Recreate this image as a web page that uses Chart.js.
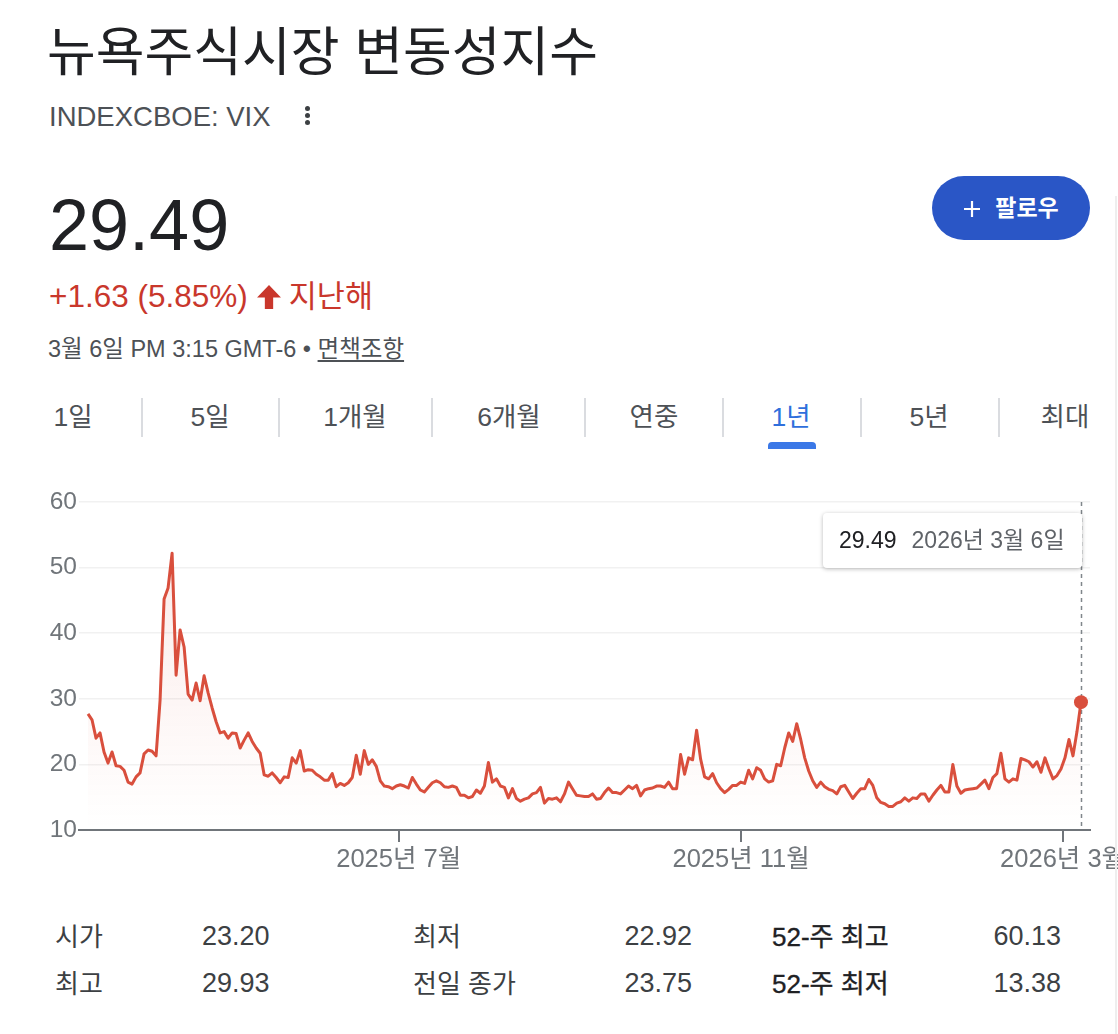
<!DOCTYPE html>
<html lang="ko">
<head>
<meta charset="utf-8">
<title>뉴욕주식시장 변동성지수</title>
<script src="https://cdn.jsdelivr.net/npm/chart.js@4.4.1/dist/chart.umd.min.js"></script>
<style>
  html, body { margin: 0; padding: 0; background: #fff; }
  body {
    width: 1118px; height: 1034px; position: relative; overflow: hidden;
    font-family: "Liberation Sans", Arial, "Noto Sans CJK KR", sans-serif;
    color: #202124;
  }
  .abs { position: absolute; line-height: 1; white-space: nowrap; }
  #titulo { left: 47px; top: 26px; font-size: 53px; color: #202124; }
  #ticker { left: 49px; top: 103px; font-size: 27.5px; color: #4d5156; }
  .punto { position: absolute; left: 305px; width: 5px; height: 5px; border-radius: 50%; background: #3c4043; }
  #precio { left: 49px; top: 189px; font-size: 72px; color: #202124; }
  #cambio { left: 49px; top: 281px; font-size: 31.5px; color: #c9372c; }
  #cambio svg { vertical-align: -3px; margin: 0 7px 0 8px; }
  #cambio .k { font-size: 30.5px; }
  #fecha { left: 48px; top: 338px; font-size: 23.5px; color: #4d5156; }
  #fecha u { text-underline-offset: 3px; }
  #seguir {
    position: absolute; left: 932px; top: 176px; width: 158px; height: 64px;
    border-radius: 32px; background: #2a56c6; color: #fff;
    font-size: 23px; font-weight: bold; line-height: 64px; text-align: center;
  }
  #seguir svg { vertical-align: -2px; margin-right: 14px; }
  .tab { position: absolute; top: 404px; font-size: 26.5px; line-height: 1; color: #4d5156; transform: translateX(-50%); white-space: nowrap; }
  .tab.activo { color: #2f6fdc; }
  .sep { position: absolute; top: 398px; width: 1.5px; height: 39px; background: #dadce0; }
  #subrayado { position: absolute; left: 768px; top: 442px; width: 48px; height: 7px; background: #3b78e7; border-radius: 4px 4px 0 0; }
  #grafica { position: absolute; left: 0; top: 480px; width: 1118px; height: 400px; }
  #tip {
    position: absolute; height: 55px; padding: 0 17px 0 16px; background: #fff;
    border-radius: 4px; box-shadow: 0 1px 4px rgba(0,0,0,0.28);
    font-size: 23px; line-height: 55px; white-space: nowrap; visibility: hidden;
  }
  #tip .v { color: #202124; margin-right: 15px; }
  #tip .d { color: #5f6368; }
  .st { position: absolute; font-size: 26px; line-height: 1; color: #3c4043; white-space: nowrap; }
  .st.n { font-size: 27px; top: auto; }
  .st.r { text-align: right; }
  .st.b { color: #202124; -webkit-text-stroke: 0.35px #202124; }
  #borde { position: absolute; left: 1115px; top: 196px; width: 2px; height: 838px; background: #eeeeee; }
</style>
</head>
<body>
<div id="titulo" class="abs">뉴욕주식시장 변동성지수</div>
<div id="ticker" class="abs">INDEXCBOE: VIX</div>
<div class="punto" style="top:106px"></div>
<div class="punto" style="top:113px"></div>
<div class="punto" style="top:120px"></div>
<div id="seguir"><svg width="18" height="18" viewBox="0 0 18 18"><path d="M9 1v16M1 9h16" stroke="#fff" stroke-width="2.2"/></svg>팔로우</div>

<div id="precio" class="abs">29.49</div>
<div id="cambio" class="abs">+1.63 (5.85%)<svg width="26" height="26" viewBox="0 0 25 25"><path fill="#c9372c" d="M12.5 1L24 13h-7.5v11h-8V13H1z"/></svg><span class="k">지난해</span></div>
<div id="fecha" class="abs">3월 6일 PM 3:15 GMT-6 • <u>면책조항</u></div>

<div class="tab" style="left:73px">1일</div>
<div class="tab" style="left:210px">5일</div>
<div class="tab" style="left:355px">1개월</div>
<div class="tab" style="left:509px">6개월</div>
<div class="tab" style="left:654px">연중</div>
<div class="tab activo" style="left:791px">1년</div>
<div class="tab" style="left:929px">5년</div>
<div class="tab" style="left:1065px">최대</div>
<div class="sep" style="left:141px"></div>
<div class="sep" style="left:278px"></div>
<div class="sep" style="left:431px"></div>
<div class="sep" style="left:584px"></div>
<div class="sep" style="left:722px"></div>
<div class="sep" style="left:860px"></div>
<div class="sep" style="left:998px"></div>
<div id="subrayado"></div>

<div id="grafica"><canvas id="vix" width="1118" height="400"></canvas></div>
<div id="tip"><span class="v">29.49</span><span class="d">2026년 3월 6일</span></div>

<div class="st" style="left:55px; top:924px">시가</div>
<div class="st n" style="left:202px; top:923px">23.20</div>
<div class="st" style="left:413px; top:924px">최저</div>
<div class="st n r" style="right:426px; top:923px">22.92</div>
<div class="st b" style="left:772px; top:924px">52-주 최고</div>
<div class="st n r" style="right:57px; top:923px">60.13</div>
<div class="st" style="left:55px; top:971px">최고</div>
<div class="st n" style="left:202px; top:970px">29.93</div>
<div class="st" style="left:413px; top:971px">전일 종가</div>
<div class="st n r" style="right:426px; top:970px">23.75</div>
<div class="st b" style="left:772px; top:971px">52-주 최저</div>
<div class="st n r" style="right:57px; top:970px">13.38</div>
<div id="borde"></div>

<script>
// Cierres diarios del VIX, último año
const vix = [
  27.7, 26.8, 24.0, 24.8, 21.9, 20.2, 21.9, 19.8, 19.7, 19.1,
  17.3, 17.0, 18.1, 18.7, 21.6, 22.2, 22.0, 21.3, 29.8, 45.2,
  46.9, 52.2, 33.6, 40.5, 37.9, 30.7, 29.8, 32.4, 29.7, 33.5,
  30.9, 28.6, 26.5, 24.8, 25.0, 24.0, 24.8, 24.7, 22.5, 23.7,
  24.8, 23.5, 22.5, 21.7, 18.4, 18.2, 18.7, 18.0, 17.2, 18.1,
  18.0, 21.0, 20.2, 22.1, 19.0, 19.2, 19.1, 18.5, 18.1, 17.6,
  17.6, 18.6, 16.6, 17.1, 16.8, 17.2, 18.0, 21.4, 18.5, 22.1,
  20.0, 20.7, 19.7, 17.5, 16.7, 16.6, 16.3, 16.7, 16.9, 16.7,
  16.4, 18.0, 17.0, 16.1, 15.8, 16.5, 17.2, 17.5, 17.2, 16.6,
  16.5, 16.7, 16.5, 15.3, 15.3, 14.9, 15.1, 16.1, 15.6, 16.7,
  20.3, 17.3, 17.8, 16.7, 16.5, 14.9, 16.3, 14.8, 14.4, 14.7,
  14.9, 15.5, 15.7, 16.5, 14.1, 14.8, 14.7, 14.9, 14.3, 15.5,
  17.3, 16.3, 15.3, 15.2, 15.1, 15.1, 15.5, 14.7, 14.8, 15.7,
  16.4, 15.7, 15.7, 15.5, 16.1, 16.7, 16.3, 16.8, 15.2, 16.1,
  16.3, 16.4, 16.7, 16.7, 16.5, 17.3, 16.3, 16.3, 21.5, 18.5,
  21.0, 20.7, 25.2, 20.8, 18.1, 17.8, 18.6, 17.2, 16.3, 15.7,
  16.2, 16.8, 16.8, 17.3, 17.1, 19.1, 17.8, 19.5, 19.1, 17.8,
  17.3, 17.5, 20.0, 19.8, 22.5, 24.8, 23.5, 26.2, 23.8, 21.0,
  19.0, 17.5, 16.5, 17.3, 16.6, 16.2, 16.0, 15.5, 16.6, 16.8,
  15.8, 14.8, 15.6, 16.3, 16.3, 17.7, 16.8, 14.9, 14.2, 14.0,
  13.6, 13.6, 14.1, 14.3, 14.9, 14.4, 14.9, 14.8, 15.5, 15.5,
  14.4, 15.3, 16.1, 16.8, 15.8, 15.8, 20.0, 16.7, 15.6, 16.1,
  16.2, 16.3, 16.4, 17.0, 17.6, 16.3, 18.0, 18.6, 21.7, 17.8,
  17.3, 17.8, 17.6, 20.9, 20.7, 20.4, 19.6, 20.4, 18.8, 21.0,
  19.3, 17.8, 18.3, 19.3, 21.0, 23.8, 21.3, 25.0, 29.49
];

// Etiquetas del eje x y su posición (índice de sesión)
const etiquetas_x = ["2025년 7월", "2025년 11월", "2026년 3월"];
const posiciones_x = [77.6, 163.1, 243.4];
const marcas_y = [10, 20, 30, 40, 50, 60];

const FUENTE = '"Liberation Sans", Arial, "Noto Sans CJK KR", sans-serif';
const ROJO = "#d94f3d";
const ultimo = vix.length - 1;

const plugin_marcador_final = {
  id: "marcadorFinal",
  beforeDatasetsDraw: (chart) => {
    const { ctx, chartArea, scales } = chart;
    const x = Math.round(scales.x.getPixelForValue(ultimo)) + 0.5;
    ctx.save();
    ctx.strokeStyle = "#80868b";
    ctx.lineWidth = 1.5;
    ctx.setLineDash([4, 4]);
    ctx.beginPath();
    ctx.moveTo(x, chartArea.top);
    ctx.lineTo(x, chartArea.bottom);
    ctx.stroke();
    ctx.restore();
  },
  afterRender: (chart) => {
    // colocar la caja del último valor pegada a la línea punteada
    const tip = document.getElementById("tip");
    const x = chart.scales.x.getPixelForValue(ultimo);
    tip.style.left = x + 1 - tip.offsetWidth + "px";
    tip.style.top = 480 + chart.chartArea.top + 11 + "px";
    tip.style.visibility = "visible";
  },
};

const ctx = document.getElementById("vix").getContext("2d");
const chart_vix = new Chart(ctx, {
  type: "line",
  data: {
    datasets: [
      {
        label: "VIX",
        data: vix.map((v, i) => ({ x: i, y: v })),
        borderColor: ROJO,
        borderWidth: 3,
        borderJoinStyle: "round",
        tension: 0,
        fill: "start",
        backgroundColor: (c) => {
          const area = c.chart.chartArea;
          if (!area) return "rgba(217, 79, 61, 0)";
          const g = c.chart.ctx.createLinearGradient(0, area.top, 0, area.bottom);
          g.addColorStop(0, "rgba(217, 79, 61, 0.13)");
          g.addColorStop(1, "rgba(217, 79, 61, 0)");
          return g;
        },
        pointRadius: (c) => (c.dataIndex === ultimo ? 7 : 0),
        pointHoverRadius: 0,
        pointBorderWidth: 0,
        pointBackgroundColor: ROJO,
      },
    ],
  },
  options: {
    responsive: false,
    animation: false,
    events: [],
    layout: { padding: { top: 22, right: 28, left: 0, bottom: 0 } },
    plugins: { legend: { display: false }, tooltip: { enabled: false } },
    scales: {
      x: {
        type: "linear",
        min: -2.25,
        max: ultimo + 2.25,
        afterBuildTicks: (s) => {
          s.ticks = posiciones_x.map((v) => ({ value: v }));
        },
        afterFit: (s) => {
          s.height = 50;
          s.paddingLeft = 0;
          s.paddingRight = 0;
        },
        ticks: {
          autoSkip: false,
          maxRotation: 0,
          padding: 3,
          color: "#70757a",
          font: { family: FUENTE, size: 25.5 },
          callback: (v, i) => etiquetas_x[i],
        },
        grid: {
          drawOnChartArea: false,
          drawTicks: true,
          tickLength: 12,
          color: "#70757a",
          lineWidth: 2,
        },
        border: { display: true, color: "#70757a", width: 2 },
      },
      y: {
        min: 10,
        max: 60,
        afterBuildTicks: (s) => {
          s.ticks = marcas_y.map((v) => ({ value: v }));
        },
        afterFit: (s) => {
          s.width = 79;
        },
        ticks: {
          padding: 2,
          color: "#70757a",
          font: { family: FUENTE, size: 24.5 },
        },
        grid: { drawTicks: false, color: "#f1f1f1", lineWidth: 1.5 },
        border: { display: false },
      },
    },
  },
  plugins: [plugin_marcador_final],
});
</script>
</body>
</html>
